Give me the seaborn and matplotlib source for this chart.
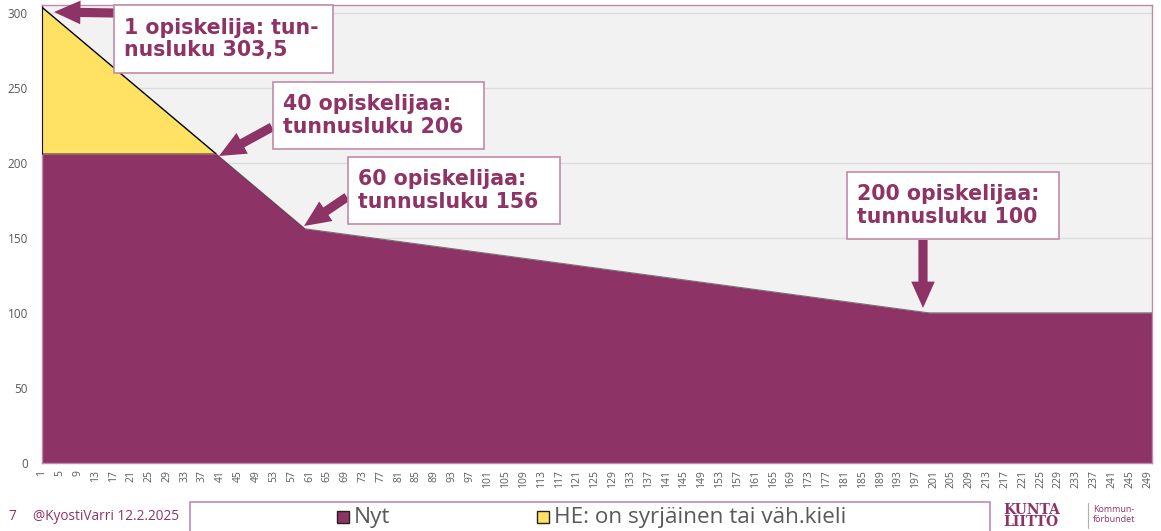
import matplotlib.pyplot as plt
from matplotlib.patches import Rectangle
import seaborn as sns
import pandas as pd

# Tunnusluku oppilasmäärän mukaan (taitepisteet)
nyt_opiskelijat = [1, 40, 60, 200, 250]
nyt_tunnusluku = [206, 206, 156, 100, 100]
he_opiskelijat = [1, 40]
he_tunnusluku = [303.5, 206]

tick_labels = [str(n) for n in range(1, 250, 4)]

sarjat = ['Nyt', 'HE: on syrjäinen tai väh.kieli']
annotaatiot = [
    '1 opiskelija: tun-\nnusluku 303,5',
    '40 opiskelijaa:\ntunnusluku 206',
    '60 opiskelijaa:\ntunnusluku 156',
    '200 opiskelijaa:\ntunnusluku 100',
]

PURPLE = '#8E3366'
YELLOW = '#FFE264'
BORDER = '#C08AAA'
GREY = '#595959'
W, H = 1161, 531

sns.set_style('white')
plt.rcParams['font.family'] = ['Open Sans', 'DejaVu Sans']

df_nyt = pd.DataFrame({'n': nyt_opiskelijat, 'y': nyt_tunnusluku})
df_he = pd.DataFrame({'n': he_opiskelijat, 'y': he_tunnusluku})

fig = plt.figure(figsize=(W / 100, H / 100), dpi=100)
ax = fig.add_axes([42 / W, 1 - 463 / H, (1152 - 42) / W, (463 - 5) / H])
ax.set_facecolor('#F2F2F2')

# pinottu alue: Nyt + HE-lisä
ax.fill_between(df_nyt['n'], 0, df_nyt['y'], color=PURPLE, lw=0, zorder=2)
ax.fill_between(df_he['n'], nyt_tunnusluku[0], df_he['y'], color=YELLOW, lw=0, zorder=2)
sns.lineplot(data=df_nyt, x='n', y='y', ax=ax, color='#222222', lw=0.7, alpha=0.6, zorder=3)
sns.lineplot(data=df_he, x='n', y='y', ax=ax, color='black', lw=1.0, zorder=3)
ax.plot([he_opiskelijat[0]] * 2, [nyt_tunnusluku[0], he_tunnusluku[0]], color='black', lw=1.2, zorder=3)

ax.set_xlim(1, 250)
ax.set_ylim(0, 305)
ax.set_yticks(range(0, 301, 50))
ax.set_xticks([int(t) for t in tick_labels])
ax.set_xticklabels(tick_labels, rotation=90, fontsize=7.5, color=GREY)
ax.tick_params(axis='y', labelsize=8.5, labelcolor=GREY, length=0, pad=10)
ax.tick_params(axis='x', length=0, pad=5)
ax.grid(axis='y', color='#DCDCDC', lw=1, zorder=0)
ax.set_axisbelow(True)
ax.set_xlabel('')
ax.set_ylabel('')
for s in ax.spines.values():
    s.set_color(BORDER)
    s.set_linewidth(1)

# laatikot ja nuolet (kuvan pikseleinä: vasen, ylä, oikea, ala)
boxes = [(114, 5, 333, 73), (273, 82, 484, 149), (348, 157, 560, 224), (847, 172, 1059, 239)]
arrows = [((114, 13), (54, 12)), ((272, 127), (219, 156)),
          ((347, 197), (304, 226)), ((923, 240), (923, 308))]

for (l, t, r, b), txt in zip(boxes, annotaatiot):
    fig.add_artist(Rectangle((l / W, 1 - b / H), (r - l) / W, (b - t) / H,
                             transform=fig.transFigure, facecolor='white',
                             edgecolor=BORDER, lw=1.2, zorder=5))
    fig.text((l + 10) / W, 1 - (t + b) / 2 / H, txt, ha='left', va='center',
             fontsize=14.8, fontweight='bold', family='DejaVu Sans', color=PURPLE,
             linespacing=1.15, zorder=6)

for (x0, y0), (x1, y1) in arrows:
    ax.annotate('', xy=(x1, H - y1), xytext=(x0, H - y0),
                xycoords='figure pixels', textcoords='figure pixels',
                arrowprops=dict(arrowstyle='simple,head_width=0.85,head_length=0.95,tail_width=0.33',
                                mutation_scale=20, color=PURPLE, lw=0, shrinkA=0, shrinkB=0),
                zorder=7)

# selite
fig.add_artist(Rectangle((190 / W, -0.05), (990 - 190) / W, (0.05 + 1 - 502 / H),
                         transform=fig.transFigure, facecolor='white',
                         edgecolor=BORDER, lw=1.2, zorder=5))
for x, col, lab in [(337, PURPLE, sarjat[0]), (537, YELLOW, sarjat[1])]:
    fig.add_artist(Rectangle((x / W, 1 - 523 / H), 12 / W, 12 / H,
                             transform=fig.transFigure, facecolor=col,
                             edgecolor='#222222', lw=1, zorder=6))
    fig.text((x + 17) / W, 1 - 518 / H, lab, ha='left', va='center',
             fontsize=16.2, color=GREY, zorder=6)

# alatunniste
fig.text(8 / W, 1 - 517 / H, '7', ha='left', va='center', fontsize=9.8, color=PURPLE)
fig.text(33 / W, 1 - 517 / H, '@KyostiVarri 12.2.2025', ha='left', va='center',
         fontsize=9.8, color=PURPLE)
fig.text(1003 / W, 1 - 509.5 / H, 'KUNTA', ha='left', va='center', fontsize=10,
         fontweight='bold', family='DejaVu Serif', color=PURPLE)
fig.text(1003 / W, 1 - 521.5 / H, 'LIITTO', ha='left', va='center', fontsize=10,
         fontweight='bold', family='DejaVu Serif', color=PURPLE)
fig.add_artist(plt.Line2D([1088 / W, 1088 / W], [1 - 528 / H, 1 - 503 / H],
                          transform=fig.transFigure, color='#B0B0B0', lw=0.8))
fig.text(1093 / W, 1 - 510 / H, 'Kommun-', ha='left', va='center', fontsize=6.5, color=PURPLE)
fig.text(1093 / W, 1 - 520 / H, 'förbundet', ha='left', va='center', fontsize=6.5, color=PURPLE)

fig.savefig('out.png', dpi=100)
